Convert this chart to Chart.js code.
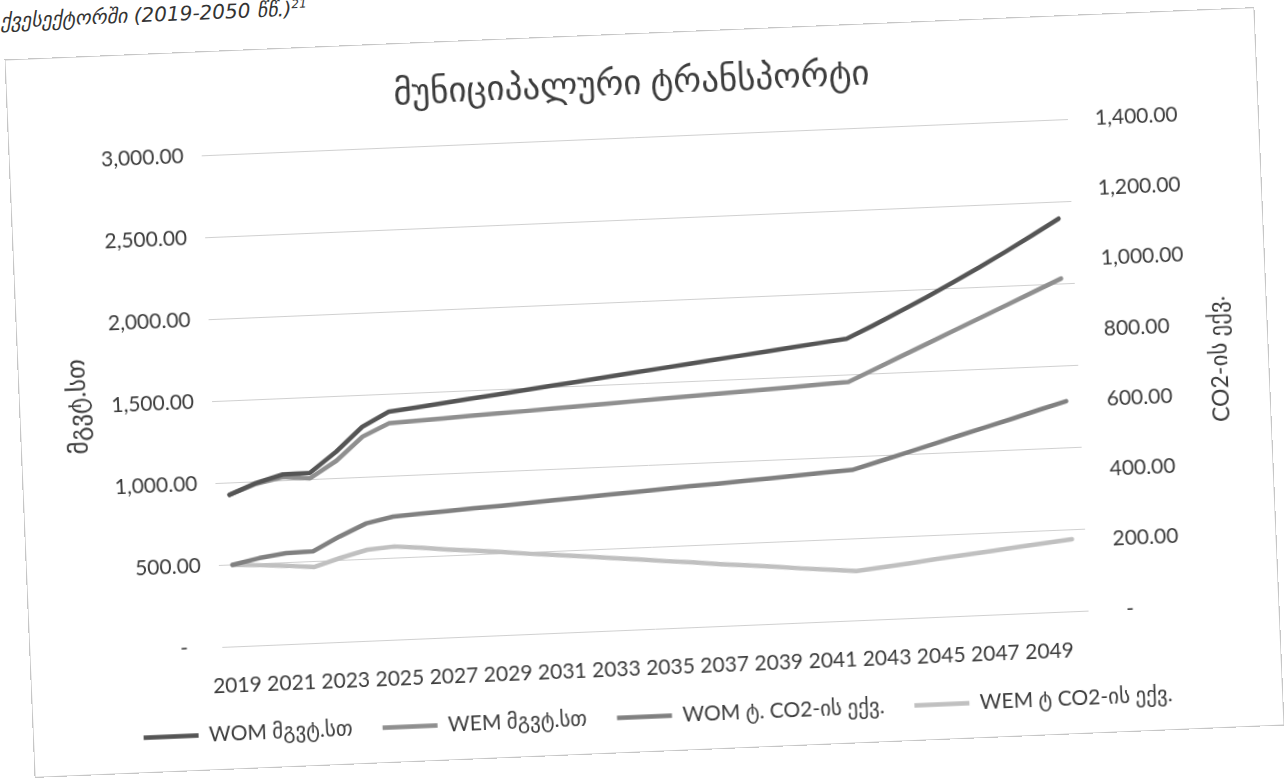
<!DOCTYPE html>
<html>
<head>
<meta charset="utf-8">
<title>მუნიციპალური ტრანსპორტი</title>
<script src="https://cdn.jsdelivr.net/npm/chart.js@4.4.1/dist/chart.umd.min.js"></script>
<style>
  body { margin: 0; background: #fff; width: 1287px; height: 778px; overflow: hidden; position: relative; }
  #caption {
    position: absolute; left: 0; top: 9px;
    font: italic 20px "DejaVu Sans", sans-serif; color: #333;
    transform: rotate(-2.4deg); transform-origin: left top; white-space: nowrap;
  }
  #caption sup { font-size: 12px; }
  #frame {
    position: absolute; left: 20px; top: 34px; width: 1249px; height: 717px;
    outline: 1px solid #c6c6c6; transform: rotate(-2.4deg); background: #fff;
  }
  canvas { display: block; }
</style>
</head>
<body>
<div id="caption">ქვესექტორში (2019-2050 წწ.)<sup>21</sup></div>
<div id="frame"><canvas id="transportChart" width="1249" height="717"></canvas></div>

<script>
const years = ["2019", "2020", "2021", "2022", "2023", "2024", "2025", "2026", "2027", "2028",
  "2029", "2030", "2031", "2032", "2033", "2034", "2035", "2036", "2037", "2038", "2039",
  "2040", "2041", "2042", "2043", "2044", "2045", "2046", "2047", "2048", "2049", "2050"];

// energy use, MWh (left axis)
const womEnergy = [925, 990, 1035, 1038, 1160, 1305, 1390, 1409, 1428, 1448, 1467, 1486, 1506,
  1525, 1544, 1564, 1583, 1602, 1622, 1641, 1660, 1680, 1699, 1718, 1792, 1870, 1950, 2033,
  2119, 2208, 2300, 2395];
const wemEnergy = [925, 985, 1020, 1005, 1105, 1245, 1320, 1328, 1336, 1344, 1352, 1359, 1367,
  1375, 1383, 1391, 1399, 1407, 1415, 1423, 1430, 1438, 1446, 1454, 1526, 1598, 1670, 1742,
  1814, 1886, 1958, 2030];

// CO2 equivalent, t (right axis)
const womCo2 = [232, 248, 259, 261, 300, 334, 350, 355, 359, 364, 368, 373, 378, 382, 387, 391,
  396, 401, 405, 410, 414, 419, 424, 428, 449, 470, 491, 513, 534, 555, 577, 598];
const wemCo2 = [232, 228, 223, 216, 239, 259, 265, 258, 250, 243, 236, 228, 221, 214, 206, 199,
  191, 184, 176, 169, 162, 154, 147, 140, 148, 156, 165, 173, 181, 189, 197, 205];

const seriesNames = ["WOM მგვტ.სთ", "WEM მგვტ.სთ", "WOM ტ. CO2-ის ექვ.", "WEM ტ CO2-ის ექვ."];
const leftTicks = [0, 500, 1000, 1500, 2000, 2500, 3000];
const rightTicks = [0, 200, 400, 600, 800, 1000, 1200, 1400];

const chartTitle = "მუნიციპალური ტრანსპორტი";
const leftTitle = "მგვტ.სთ";
const rightTitle = "CO2-ის ექვ.";

const textColor = "#3c3c3c";
const fontFamily = "Lato, 'DejaVu Sans', sans-serif";

function fmt(v, zeroText) {
  if (v === 0) return zeroText;
  return v.toLocaleString("en-US", { minimumFractionDigits: 2, maximumFractionDigits: 2 });
}

// rotated axis titles, both read bottom to top
const axisTitles = {
  id: "axisTitles",
  afterDraw(chart) {
    const { ctx, chartArea, scales } = chart;
    const midY = (chartArea.top + chartArea.bottom) / 2;
    ctx.save();
    ctx.fillStyle = textColor;
    ctx.textAlign = "center";
    ctx.textBaseline = "middle";
    [[scales.y.left + 58, leftTitle, 25], [scales.y1.right - 48, rightTitle, 23]].forEach(([x, text, size]) => {
      ctx.save();
      ctx.font = size + "px " + fontFamily;
      ctx.translate(x, midY);
      ctx.rotate(-Math.PI / 2);
      ctx.fillText(text, 0, 0);
      ctx.restore();
    });
    ctx.restore();
  }
};

function line(label, data, color, axis) {
  return {
    label, data, yAxisID: axis,
    borderColor: color, backgroundColor: color,
    borderWidth: 4.5, pointRadius: 0, tension: 0,
    borderCapStyle: "round", borderJoinStyle: "round",
    pointStyle: "line"
  };
}

new Chart(document.getElementById("transportChart"), {
  type: "line",
  data: {
    labels: years,
    datasets: [
      line(seriesNames[0], womEnergy, "#555555", "y"),
      line(seriesNames[1], wemEnergy, "#8f8f8f", "y"),
      line(seriesNames[2], womCo2, "#808080", "y1"),
      line(seriesNames[3], wemCo2, "#c0c0c0", "y1")
    ]
  },
  options: {
    responsive: false,
    animation: false,
    layout: { padding: { left: 0, right: 0, top: 0, bottom: 14 } },
    font: { family: fontFamily },
    plugins: {
      title: {
        display: true, text: chartTitle, color: textColor,
        font: { family: fontFamily, size: 35, weight: "normal" },
        padding: { top: 28, bottom: 33 }
      },
      legend: {
        position: "bottom",
        labels: {
          usePointStyle: true, pointStyleWidth: 55, boxHeight: 10,
          color: textColor, padding: 30,
          font: { family: fontFamily, size: 21 }
        }
      },
      tooltip: { enabled: false }
    },
    scales: {
      x: {
        offset: true,
        grid: { display: false, drawTicks: false },
        border: { display: false },
        ticks: {
          autoSkip: false, maxRotation: 0, minRotation: 0, padding: 27,
          color: textColor, font: { family: fontFamily, size: 21 },
          callback: (v, i) => (i % 2 === 0 ? years[i] : "")
        },
        afterFit: (s) => { s.height = 47; }
      },
      y: {
        position: "left", min: 0, max: 3000,
        afterBuildTicks: (s) => { s.ticks = leftTicks.map((v) => ({ value: v })); },
        grid: { color: "#d0d0d0", lineWidth: 1, drawTicks: false },
        border: { display: false },
        ticks: {
          padding: 18, color: textColor, font: { family: fontFamily, size: 21 },
          callback: (v) => fmt(v, "-   ")
        },
        afterFit: (s) => { s.width = 192; }
      },
      y1: {
        position: "right", min: 0, max: 1400,
        afterBuildTicks: (s) => { s.ticks = rightTicks.map((v) => ({ value: v })); },
        grid: { display: false, drawTicks: false },
        border: { display: false },
        ticks: {
          padding: 27, color: textColor, font: { family: fontFamily, size: 21 },
          callback: (v) => fmt(v, "  -")
        },
        afterFit: (s) => { s.width = 190; }
      }
    }
  },
  plugins: [axisTitles]
});
</script>
</body>
</html>
